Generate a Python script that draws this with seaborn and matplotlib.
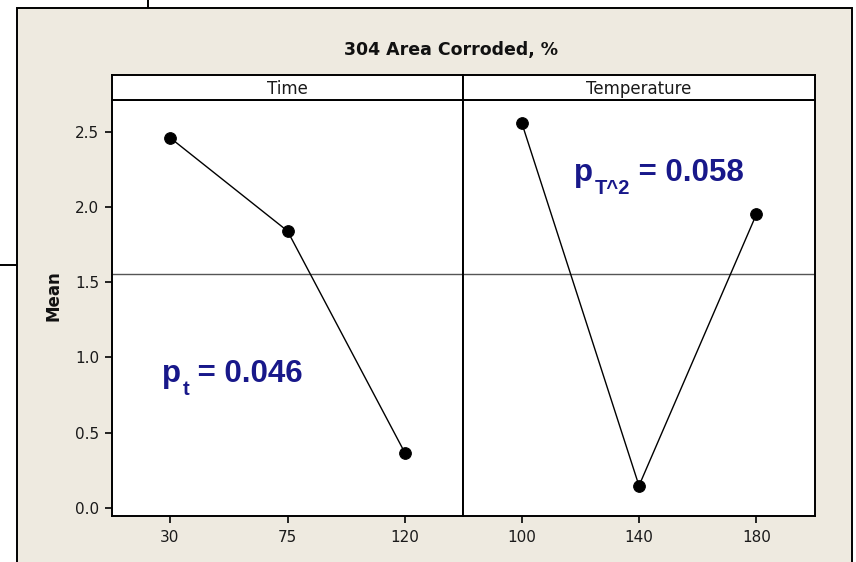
import matplotlib
matplotlib.use("Agg")
import matplotlib.pyplot as plt
from matplotlib.patches import Rectangle
from matplotlib.lines import Line2D
import pandas as pd
import seaborn as sns

# Main effects data
time_levels = [30, 75, 120]
time_means = [2.46, 1.84, 0.365]
temp_levels = [100, 140, 180]
temp_means = [2.56, 0.148, 1.95]
grand_mean = 1.555

time_df = pd.DataFrame({"level": time_levels, "mean": time_means})
temp_df = pd.DataFrame({"level": temp_levels, "mean": temp_means})

sns.set_theme(style="white")
plt.rcParams["font.family"] = ["DejaVu Sans"]

W, H = 856, 562
fig = plt.figure(figsize=(W / 100, H / 100), dpi=100)
fig.patch.set_facecolor("white")

def fx(px):
    return px / W

def fy(py):
    return 1 - py / H

# beige panel with border, plus the stray connector lines of the page
fig.patches.append(Rectangle((fx(17), fy(575)), fx(852) - fx(17), fy(8) - fy(575),
                             transform=fig.transFigure, facecolor="#EEEAE0",
                             edgecolor="black", linewidth=1.4, zorder=-10))
fig.lines.append(Line2D([fx(148), fx(148)], [fy(0), fy(8)], transform=fig.transFigure,
                        color="black", linewidth=1.4, zorder=-10))
fig.lines.append(Line2D([fx(0), fx(17)], [fy(265), fy(265)], transform=fig.transFigure,
                        color="black", linewidth=1.4, zorder=-10))

left, mid, right = 112, 463, 815
top, bottom, strip_top = 100, 516, 75

ax1 = fig.add_axes([fx(left), fy(bottom), fx(mid) - fx(left), fy(top) - fy(bottom)])
ax2 = fig.add_axes([fx(mid), fy(bottom), fx(right) - fx(mid), fy(top) - fy(bottom)], sharey=ax1)

panels = [
    (ax1, time_df, "Time", (7.8, 142.2), time_levels),
    (ax2, temp_df, "Temperature", (80, 200), temp_levels),
]

for ax, df, name, xlim, ticks in panels:
    ax.set_facecolor("white")
    ax.axhline(grand_mean, color="#555555", linewidth=1.0, zorder=1)
    sns.lineplot(data=df, x="level", y="mean", ax=ax, color="black", linewidth=1.0,
                 marker="o", markersize=8.4, markeredgecolor="black", zorder=3)
    ax.set_xlim(*xlim)
    ax.set_xticks(ticks)
    ax.set_xticklabels([str(t) for t in ticks], fontsize=11, color="#1a1a1a")
    ax.set_xlabel("")
    ax.set_ylabel("")
    for s in ax.spines.values():
        s.set_color("black")
        s.set_linewidth(1.4)
    ax.tick_params(axis="x", direction="out", length=5, width=1.2, color="black",
                   bottom=True, pad=5)
    # strip header
    sax = fig.add_axes([ax.get_position().x0, fy(top), ax.get_position().width,
                        fy(strip_top) - fy(top)])
    sax.set_facecolor("white")
    sax.set_xticks([])
    sax.set_yticks([])
    for s in sax.spines.values():
        s.set_color("black")
        s.set_linewidth(1.4)
    sax.text(0.5, 0.45, name, ha="center", va="center", fontsize=12, color="#1a1a1a",
             transform=sax.transAxes)

ax1.set_ylim(-0.053, 2.71)
ax1.set_yticks([0.0, 0.5, 1.0, 1.5, 2.0, 2.5])
ax1.set_yticklabels(["0.0", "0.5", "1.0", "1.5", "2.0", "2.5"], fontsize=11, color="#1a1a1a")
ax1.tick_params(axis="y", direction="out", length=5, width=1.2, color="black", left=True, pad=4)
ax2.tick_params(axis="y", left=False, labelleft=False)

fig.text(fx(451), fy(50), "304 Area Corroded, %", ha="center", va="center",
         fontsize=12.5, fontweight="bold", color="#111111")
fig.text(fx(53), fy(296), "Mean", ha="center", va="center", rotation=90,
         fontsize=12, fontweight="bold", color="#111111")

# p-value annotations, built from pieces so the subscripts sit like the original
navy = "#18188A"
ann_font = ["Liberation Sans", "DejaVu Sans"]

def p_label(ax, x, y, sub, rest):
    t1 = ax.text(x, y, "p", transform=ax.transAxes, fontsize=22.5, fontweight="bold",
                 color=navy, family=ann_font, ha="left", va="baseline")
    t2 = ax.annotate(sub, xy=(1, y), xycoords=(t1, ax.transAxes), xytext=(1, -9),
                     textcoords="offset points", fontsize=14.5, fontweight="bold",
                     color=navy, family=ann_font, ha="left", va="baseline")
    ax.annotate(rest, xy=(1, y), xycoords=(t2, ax.transAxes), xytext=(0, 0),
                textcoords="offset points", fontsize=22.5, fontweight="bold",
                color=navy, family=ann_font, ha="left", va="baseline")

p_label(ax1, 0.143, 0.322, "t", " = 0.046")
p_label(ax2, 0.316, 0.805, "T^2", " = 0.058")

fig.savefig("out.png", dpi=100)
